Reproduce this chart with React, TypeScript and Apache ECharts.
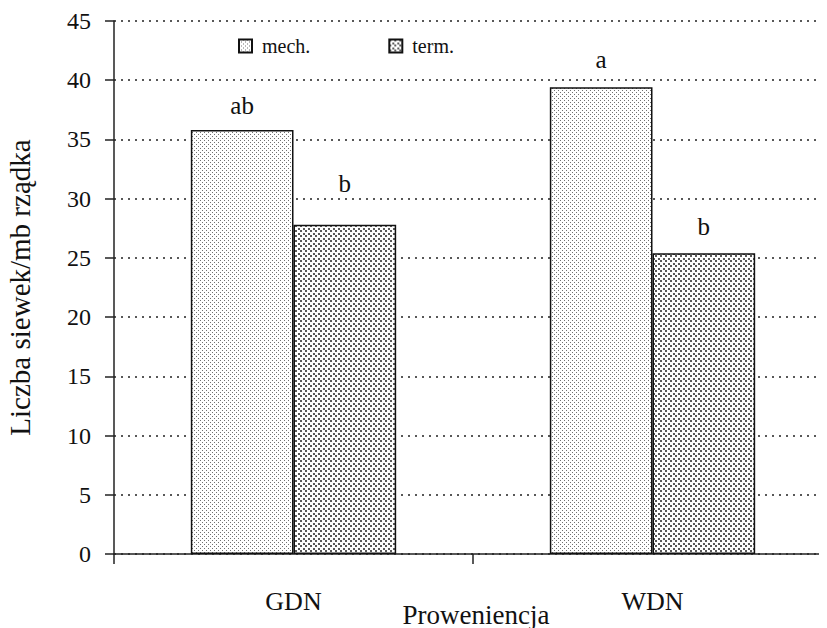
import React, { useEffect, useRef } from "react";
import * as echarts from "echarts";

const categories = ["GDN", "WDN"];
const seriesNames = ["mech.", "term."];
const mechValues = [35.8, 39.4];
const termValues = [27.8, 25.4];
const mechLetters = ["ab", "a"];
const termLetters = ["b", "b"];
const yTicks = [0, 5, 10, 15, 20, 25, 30, 35, 40, 45];

const FONT = "'Liberation Serif', 'Times New Roman', serif";

function makePattern(size: number, dot: number, color: string, bg: string) {
  const c = document.createElement("canvas");
  c.width = size * 2;
  c.height = size * 2;
  const ctx = c.getContext("2d")!;
  ctx.fillStyle = bg;
  ctx.fillRect(0, 0, size * 2, size * 2);
  ctx.fillStyle = color;
  ctx.fillRect(0, 0, dot, dot);
  ctx.fillRect(size, 0, dot, dot);
  ctx.fillRect(0, size, dot, dot);
  ctx.fillRect(size, size, dot, dot);
  const h = Math.round(size / 2);
  ctx.fillRect(h, h, dot, dot);
  ctx.fillRect(size + h, h, dot, dot);
  ctx.fillRect(h, size + h, dot, dot);
  ctx.fillRect(size + h, size + h, dot, dot);
  return c;
}

export default function App() {
  const ref = useRef<HTMLDivElement>(null);
  useEffect(() => {
    if (!ref.current) return;
    const chart = echarts.init(ref.current, undefined, { renderer: "svg" });
    const mechPat = { image: makePattern(4, 1, "#707070", "#ffffff"), repeat: "repeat" };
    const termPat = { image: makePattern(5, 2, "#5a5a5a", "#ffffff"), repeat: "repeat" };
    const mechDist = [12, 15];
    const termDist = [29, 14];
    const labelStyle = { show: true, position: "top", color: "#111", fontFamily: FONT, fontSize: 25 };
    chart.setOption({
      animation: false,
      textStyle: { fontFamily: FONT },
      grid: { left: 114, right: -5, top: 21, bottom: 74, outerBoundsMode: "none", containLabel: false },
      legend: {
        left: 233,
        top: 31,
        itemWidth: 13,
        itemHeight: 13,
        itemGap: 78,
        icon: "rect",
        textStyle: { fontFamily: FONT, fontSize: 20, color: "#111", padding: [0, 0, 0, 5] },
        data: seriesNames,
      },
      xAxis: {
        type: "category",
        data: categories,
        name: "Proweniencja",
        nameLocation: "middle",
        nameGap: 47,
        nameMoveOverlap: false,
        nameTextStyle: { fontFamily: FONT, fontSize: 27, color: "#111", padding: [0, 0, 0, 6] },
        axisLine: { lineStyle: { color: "#222", width: 1.5 } },
        axisTick: { show: true, length: 10, lineStyle: { color: "#222", width: 1.5 } },
        axisLabel: { margin: 34, fontFamily: FONT, fontSize: 26, color: "#111" },
      },
      yAxis: {
        type: "value",
        min: yTicks[0],
        max: yTicks[yTicks.length - 1],
        interval: 5,
        name: "Liczba siewek/mb rządka",
        nameLocation: "middle",
        nameGap: 80,
        nameMoveOverlap: false,
        nameTextStyle: { fontFamily: FONT, fontSize: 29, color: "#111", padding: [0, 0, 0, 0] },
        axisLine: { show: true, lineStyle: { color: "#222", width: 1.5 } },
        axisTick: { show: true, length: 9, lineStyle: { color: "#222", width: 1.5 } },
        axisLabel: { margin: 23, fontFamily: FONT, fontSize: 24, color: "#111" },
        splitLine: { show: true, lineStyle: { color: "#222", width: 1.5, type: [2, 5] } },
      },
      series: [
        {
          name: seriesNames[0],
          type: "bar",
          barWidth: "28.6%",
          barGap: "0%",
          itemStyle: { color: mechPat, borderColor: "#111", borderWidth: 1.5 },
          data: mechValues.map((v, i) => ({
            value: v,
            label: { ...labelStyle, distance: mechDist[i], formatter: mechLetters[i] },
          })),
        },
        {
          name: seriesNames[1],
          type: "bar",
          barWidth: "28.6%",
          barGap: "0%",
          itemStyle: { color: termPat, borderColor: "#111", borderWidth: 1.5 },
          data: termValues.map((v, i) => ({
            value: v,
            label: { ...labelStyle, distance: termDist[i], formatter: termLetters[i] },
          })),
        },
      ],
    });
    return () => chart.dispose();
  }, []);
  return <div ref={ref} style={{ width: 827, height: 628, marginLeft: -8, marginTop: -8 }} />;
}
